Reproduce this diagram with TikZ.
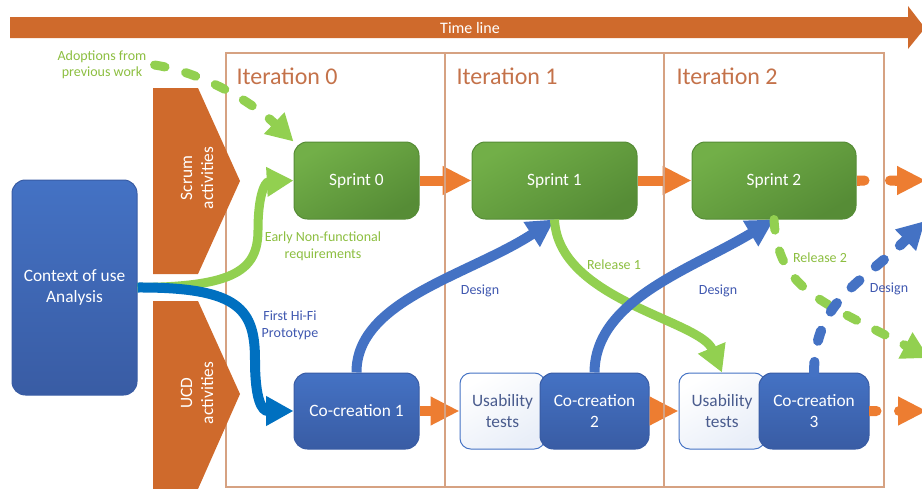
\documentclass[tikz,border=0pt]{standalone}
\usepackage{fontspec}
\setmainfont{Carlito}
\usetikzlibrary{arrows.meta}

\definecolor{tlorange}{RGB}{207,106,44}
\definecolor{arrorange}{RGB}{237,125,49}
\definecolor{framebrown}{RGB}{214,162,130}
\definecolor{itertext}{RGB}{196,114,74}
\definecolor{sprintlight}{RGB}{114,175,72}
\definecolor{sprintdark}{RGB}{86,140,54}
\definecolor{ucdlight}{RGB}{68,114,196}
\definecolor{ucddark}{RGB}{57,92,164}
\definecolor{relgreen}{RGB}{146,208,80}
\definecolor{labgreen}{RGB}{140,190,64}
\definecolor{hifiblue}{RGB}{0,112,192}
\definecolor{labblue}{RGB}{64,88,176}
\definecolor{usatext}{RGB}{74,92,142}

\tikzset{every picture/.style={line width=0.75pt}}
\tikzset{
  boxfont/.style={font=\fontsize{13}{15.75}\selectfont},
  sprintbox/.style={boxfont, rounded corners=10pt, draw=sprintdark, top color=sprintlight, bottom color=sprintdark, shading angle=30, text=white, minimum height=57.75pt, inner sep=0pt, align=center},
  ucdbox/.style={boxfont, rounded corners=10pt, draw=ucddark, top color=ucdlight, bottom color=ucddark, text=white, minimum height=57pt, inner sep=0pt, align=center},
  usabox/.style={boxfont, rounded corners=8pt, draw=ucdlight, top color=white, bottom color=ucdlight!12, shading angle=30, text=usatext, minimum height=57pt, inner sep=0pt, align=center},
  chevtext/.style={boxfont, rotate=90, text=white, align=center, inner sep=0.75pt},
  itertext/.style={font=\fontsize{18}{20}\selectfont, text=itertext, inner sep=0.75pt},
  greenlabel/.style={font=\fontsize{10.5}{12.75}\selectfont, text=labgreen, align=center, inner sep=0.75pt},
  bluelabel/.style={font=\fontsize{10.5}{12.75}\selectfont, text=labblue, align=center, inner sep=0.75pt},
  orangeflow/.style={draw=arrorange, line width=7.5pt, -{Triangle[length=21.75pt,width=20.25pt]}},
  greenflow/.style={draw=relgreen, line width=6.75pt, -{Triangle[length=20pt,width=21pt]}},
  hififlow/.style={draw=hifiblue, line width=7.5pt, -{Triangle[length=20.5pt,width=21pt]}},
  designflow/.style={draw=ucdlight, line width=7.5pt, -{Triangle[length=20.5pt,width=21pt]}},
  dashflow/.style={dash pattern=on 8pt off 16pt, line cap=round}
}

\begin{document}
\begin{tikzpicture}[x=0.75pt,y=0.75pt,yscale=-1,xscale=1]
\useasboundingbox (0,0) rectangle (922,489);

%Shape: Timeline arrow
\fill[tlorange] (10,17) -- (908,17) -- (908,6) -- (925,28) -- (908,49) -- (908,38) -- (10,38) -- cycle;
% Text Node
\node[text=white, font=\fontsize{12}{14}\selectfont, inner sep=0.75pt] (tl) at (470,28) {Time line};

% Boxes
\node[ucdbox, minimum width=93.75pt, minimum height=161.25pt] (ctx) at (74.5,287.5) {Context of use\\Analysis};
\node[sprintbox, minimum width=93.75pt] (s0) at (356.5,180.5) {Sprint 0};
\node[sprintbox, minimum width=123.75pt] (s1) at (554.5,180.5) {Sprint 1};
\node[sprintbox, minimum width=123pt] (s2) at (774,180.5) {Sprint 2};
\node[ucdbox, minimum width=93.75pt] (c1) at (356.5,411) {Co-creation 1};
\node[usabox, minimum width=63.75pt] (u1) at (502.5,411) {Usability\\tests};
\node[ucdbox, minimum width=81.75pt] (c2) at (594.5,411) {Co-creation\\2};
\node[usabox, minimum width=64.5pt] (u2) at (722,411) {Usability\\tests};
\node[ucdbox, minimum width=82.5pt] (c3) at (814,411) {Co-creation\\3};

% free ends
\coordinate (s2gap) at (885,180.5);
\coordinate (s2out) at (926,180.5);
\coordinate (c3gap) at (894,411);
\coordinate (c3out) at (927,411);
\coordinate (rel2end) at (929,358);
\coordinate (des3end) at (925,221);

%Straight Lines: orange flow
\draw[orangeflow] (s0.east) -- (s1.west);
\draw[orangeflow] (s1.east) -- (s2.west);
\draw[draw=arrorange, line width=7.5pt, -{Round Cap[]}] (s2.east) -- ++(13,0);
\draw[orangeflow, {Round Cap[]}-{Triangle[length=21.75pt,width=20.25pt]}] (s2gap) -- (s2out);
\draw[orangeflow] (c1.east) -- (u1.west);
\draw[orangeflow] (c2.east) -- (u2.west);
\draw[draw=arrorange, line width=7.5pt, -{Round Cap[]}] (c3.east) -- ++(12,0);
\draw[orangeflow, {Round Cap[]}-{Triangle[length=21.75pt,width=20.25pt]}] (c3gap) -- (c3out);

%Shape: Iteration frame
\draw[framebrown, line width=1.5pt] (226,53) rectangle (884,487);
\draw[framebrown, line width=1.5pt] (445,53) -- (445,487) (664,53) -- (664,487);
% Text Node
\node[itertext, anchor=west] (it0) at (235,76) {Iteration 0};
\node[itertext, anchor=west] (it1) at (455,76) {Iteration 1};
\node[itertext, anchor=west] (it2) at (675,76) {Iteration 2};

%Shape: Scrum chevron
\fill[tlorange] (153,88) -- (198,88) -- (240,181) -- (198,274) -- (153,274) -- cycle;
\node[chevtext] (scrum) at (197,178) {Scrum\\activities};
%Shape: UCD chevron
\fill[tlorange] (153,301) -- (198,301) -- (240,394) -- (198,489) -- (153,489) -- cycle;
\node[chevtext] (ucd) at (197,393) {UCD\\activities};

% Text Node
\node[greenlabel, font=\fontsize{10.5}{12}\selectfont] (adopt) at (102,65) {Adoptions from\\previous work};

%Curve Lines
\draw[greenflow, dashflow] ([xshift=5pt]adopt.east) .. controls (200,72) and (250,100) .. (s0.north west);
\draw[greenflow] (ctx.east) .. controls (235,287) and (258,270) .. (258,230) .. controls (258,195) and (265,182) .. (s0.west);
\draw[hififlow] (ctx.east) .. controls (240,287) and (255,310) .. (255,360) .. controls (255,400) and (262,411) .. (c1.west);
\draw[designflow] (c1.north) .. controls (356,300) and (470,275) .. (s1.south);
\draw[greenflow] (s1.south) .. controls (558,300) and (700,320) .. (u2.north);
\draw[designflow] (c2.north) .. controls (595,300) and (690,270) .. (s2.south);
\draw[greenflow, dashflow] (s2.south) .. controls (778,290) and (820,300) .. (rel2end);
\draw[designflow, dashflow] (c3.north) .. controls (815,300) and (860,285) .. (des3end);

% Text Node
\node[greenlabel] (nfr) at (323,246) {Early Non-functional\\requirements};
\node[bluelabel] (hifi) at (290,325) {First Hi-Fi\\Prototype};
\node[bluelabel] (des1) at (480,291) {Design};
\node[greenlabel] (rel1) at (614,265) {Release 1};
\node[bluelabel] (des2) at (718,291) {Design};
\node[greenlabel] (rel2) at (820,258) {Release 2};
\node[bluelabel] (des3) at (889,289) {Design};

\end{tikzpicture}
\end{document}
